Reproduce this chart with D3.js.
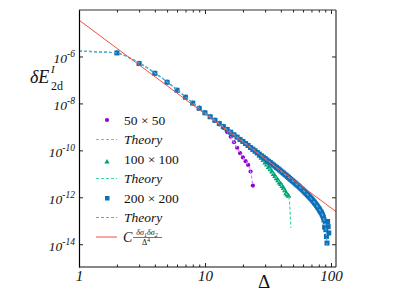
<!DOCTYPE html>
<html>
<head>
<meta charset="utf-8">
<script src="https://cdn.jsdelivr.net/npm/d3@7"></script>
<style>
  body { margin: 0; background: #fff; }
  svg { display: block; }
  svg text { font-family: "Liberation Serif", "DejaVu Serif", serif; }
</style>
</head>
<body>
<svg id="chart" width="402" height="294" font-family="Liberation Serif, serif"></svg>
<script>
// log10 of dE, sampled at integer separations Delta
const delta50 = d3.range(2, 25);
const points50 = [-5.85, -6.30, -6.72, -7.10, -7.44, -7.74, -7.99, -8.21, -8.41,
  -8.58, -8.74, -8.89, -9.04, -9.22, -9.42, -9.65, -9.89, -10.12, -10.30,
  -10.46, -10.62, -10.90, -11.50];

const delta100 = d3.range(2, 47);
const points100 = [-5.85, -6.30, -6.72, -7.10, -7.44, -7.74, -7.99, -8.21, -8.40,
  -8.57, -8.72, -8.86, -8.99, -9.11, -9.23, -9.34, -9.44, -9.54, -9.63,
  -9.72, -9.81, -9.90, -9.99, -10.07, -10.15, -10.24, -10.33, -10.43, -10.53,
  -10.62, -10.72, -10.82, -10.92, -11.02, -11.11, -11.20, -11.29, -11.38, -11.45,
  -11.53, -11.62, -11.72, -11.84, -11.90, -11.95];

const delta200 = d3.range(2, 97);
const points200 = [-5.85, -6.30, -6.72, -7.10, -7.44, -7.74, -7.99, -8.21, -8.40,
  -8.57, -8.72, -8.86, -8.99, -9.11, -9.23, -9.34, -9.44, -9.54, -9.62,
  -9.71, -9.79, -9.88, -9.95, -10.02, -10.09, -10.16, -10.23, -10.29, -10.35,
  -10.41, -10.47, -10.52, -10.58, -10.63, -10.68, -10.73, -10.78, -10.83, -10.88,
  -10.93, -10.97, -11.02, -11.06, -11.11, -11.15, -11.20, -11.24, -11.28, -11.32,
  -11.36, -11.40, -11.44, -11.48, -11.51, -11.55, -11.59, -11.63, -11.66, -11.70,
  -11.74, -11.78, -11.82, -11.85, -11.89, -11.93, -11.96, -12.00, -12.04, -12.07,
  -12.11, -12.15, -12.19, -12.23, -12.27, -12.31, -12.35, -12.40, -12.44, -12.48,
  -12.53, -12.58, -12.62, -12.66, -12.72, -12.78, -12.86, -12.96, -13.27, -13.03,
  -13.38, -13.67, -13.95, -13.03, -13.25, -13.52];

// theory curves (log10)
const theoryDelta50 = [1, 1.5, 2, 2.5, 3, 4, 5, 6, 7, 8, 10, 12, 14, 16, 18, 20, 22, 23, 24];
const theory50 = [-5.77, -5.81, -5.85, -6.05, -6.27, -6.70, -7.08, -7.42, -7.72, -7.98,
  -8.40, -8.73, -9.03, -9.42, -9.89, -10.30, -10.62, -10.90, -11.50];

const theoryDelta100 = [1, 1.5, 2, 2.5, 3, 4, 5, 6, 7, 8, 10, 12, 15, 20, 25, 30, 35, 40, 44, 46, 47, 48];
const theory100 = [-5.77, -5.81, -5.85, -6.05, -6.27, -6.70, -7.08, -7.42, -7.72, -7.98,
  -8.40, -8.72, -9.11, -9.63, -10.07, -10.53, -11.02, -11.45, -11.84, -11.95, -12.30, -13.30];

const theoryDelta200 = [1, 1.5, 2, 2.5, 3, 4, 5, 6, 7, 8, 10, 15, 20, 30, 40, 50, 60, 70, 80, 85, 88, 90, 92, 93];
const theory200 = [-5.77, -5.81, -5.85, -6.05, -6.27, -6.70, -7.08, -7.42, -7.72, -7.98,
  -8.40, -9.11, -9.62, -10.35, -10.88, -11.32, -11.70, -12.07, -12.48, -12.72, -12.96,
  -13.20, -13.60, -14.05];

// C * ds1 ds2 / Delta^4 reference line (end points, log10)
const fitDelta = [1, 109.6];
const fitValues = [-4.45, -12.61];

const xMajor = [1, 10, 100];
const xMinor = [2, 3, 4, 5, 6, 7, 8, 9, 20, 30, 40, 50, 60, 70, 80, 90];
const yTicks = [-6, -8, -10, -12, -14];

const colors = {
  p50: "#9400d3", t50: "#c98af5",
  p100: "#00a077", t100: "#3fd9a2",
  p200: "#0f6fb5", t200: "#58a8e6",
  fit: "#f0503f"
};

const svg = d3.select("#chart");
const margin = { top: 10, right: 66, bottom: 27, left: 79 };
const W = 402, H = 294;

const x = d3.scaleLog()
  .domain([1, 109.6])
  .range([margin.left, W - margin.right]);
const y = d3.scaleLog()
  .domain([Math.pow(10, -14.97), Math.pow(10, -4.02)])
  .range([H - margin.bottom, margin.top]);

const toPts = (ds, vs) => ds.map((d, i) => [d, Math.pow(10, vs[i])]);

const line = d3.line()
  .x(d => x(d[0]))
  .y(d => y(d[1]))
  .curve(d3.curveMonotoneX);

const plot = svg.append("g");

function drawPoints(data, shape, color) {
  const g = plot.append("g");
  if (shape === "circle") {
    g.selectAll("circle").data(data).enter().append("circle")
      .attr("cx", d => x(d[0])).attr("cy", d => y(d[1]))
      .attr("r", 2.1).attr("fill", color);
  } else if (shape === "triangle") {
    const sym = d3.symbol().type(d3.symbolTriangle).size(14);
    g.selectAll("path").data(data).enter().append("path")
      .attr("d", sym)
      .attr("transform", d => `translate(${x(d[0])},${y(d[1])})`)
      .attr("fill", color);
  } else {
    g.selectAll("rect").data(data).enter().append("rect")
      .attr("x", d => x(d[0]) - 2.5).attr("y", d => y(d[1]) - 2.5)
      .attr("width", 5).attr("height", 5)
      .attr("fill", color);
  }
}

function drawTheory(data, color) {
  plot.append("path")
    .datum(data)
    .attr("d", line)
    .attr("fill", "none")
    .attr("stroke", color)
    .attr("stroke-width", 1.2)
    .attr("stroke-dasharray", "3,2");
}

drawPoints(toPts(delta50, points50), "circle", colors.p50);
drawTheory(toPts(theoryDelta50, theory50), colors.t50);
drawPoints(toPts(delta100, points100), "triangle", colors.p100);
drawTheory(toPts(theoryDelta100, theory100), colors.t100);
drawPoints(toPts(delta200, points200), "square", colors.p200);
drawTheory(toPts(theoryDelta200, theory200), colors.t200);

plot.append("path")
  .datum(toPts(fitDelta, fitValues))
  .attr("d", d3.line().x(d => x(d[0])).y(d => y(d[1])))
  .attr("fill", "none")
  .attr("stroke", colors.fit)
  .attr("stroke-width", 1);

// axes (ticks point inward on all four sides)
const x0 = margin.left, x1 = W - margin.right, y0 = margin.top, y1 = H - margin.bottom;

function addAxis(axis, tx, ty) {
  const g = svg.append("g").attr("transform", `translate(${tx},${ty})`).call(axis);
  g.attr("font-family", null);
  g.select(".domain").remove();
  g.selectAll(".tick line").attr("stroke", "#222");
  return g;
}

const xb = addAxis(d3.axisBottom(x).tickValues(xMajor).tickSize(-4).tickSizeOuter(0)
  .tickFormat(d3.format("d")).tickPadding(3), 0, y1);
xb.selectAll("text")
  .attr("font-size", 15).attr("font-style", "italic").attr("fill", "#111");
addAxis(d3.axisBottom(x).tickValues(xMinor).tickSize(-2.5).tickFormat(""), 0, y1);
addAxis(d3.axisTop(x).tickValues(xMajor).tickSize(-4).tickFormat(""), 0, y0);
addAxis(d3.axisTop(x).tickValues(xMinor).tickSize(-2.5).tickFormat(""), 0, y0);

const yTickVals = yTicks.map(e => Math.pow(10, e));
const yl = addAxis(d3.axisLeft(y).tickValues(yTickVals).tickSize(-4).tickFormat(""), x0, 0);
addAxis(d3.axisRight(y).tickValues(yTickVals).tickSize(-4).tickFormat(""), x1, 0);

yl.selectAll(".tick").each(function(d) {
  const e = Math.round(Math.log10(d));
  const t = d3.select(this).append("text")
    .attr("x", -4).attr("y", 6.5)
    .attr("text-anchor", "end")
    .attr("fill", "#111")
    .attr("font-style", "italic")
    .attr("font-size", 13.5);
  t.append("tspan").text("10");
  t.append("tspan").attr("dy", -6).attr("font-size", 9.5).text("-" + Math.abs(e));
});

// frame
svg.append("line").attr("x1", x0 + 0.5).attr("x2", x0 + 0.5).attr("y1", y0).attr("y2", y1 + 0.5)
  .attr("stroke", "#000").attr("stroke-width", 1.2);
svg.append("line").attr("x1", x0).attr("x2", x1).attr("y1", y1).attr("y2", y1)
  .attr("stroke", "#111").attr("stroke-width", 1.2);
svg.append("line").attr("x1", x0).attr("x2", x1).attr("y1", y0).attr("y2", y0)
  .attr("stroke", "#333").attr("stroke-width", 1.2);
svg.append("line").attr("x1", x1).attr("x2", x1).attr("y1", y0).attr("y2", y1)
  .attr("stroke", "#333").attr("stroke-width", 1.2);

// axis labels
const yLab = svg.append("g").attr("fill", "#111");
yLab.append("text").attr("x", 30).attr("y", 83).attr("font-size", 18).attr("font-style", "italic")
  .text("δE");
yLab.append("text").attr("x", 51).attr("y", 73).attr("font-size", 11).attr("font-style", "italic")
  .text("I");
yLab.append("text").attr("x", 51).attr("y", 90).attr("font-size", 12)
  .text("2d");

svg.append("text")
  .attr("x", 264).attr("y", 288)
  .attr("text-anchor", "middle").attr("font-size", 19).attr("fill", "#111")
  .text("Δ");

// legend
const legendItems = [
  { kind: "circle", color: colors.p50, label: "50 × 50" },
  { kind: "dash", color: colors.t50, label: "Theory" },
  { kind: "triangle", color: colors.p100, label: "100 × 100" },
  { kind: "dash", color: colors.t100, label: "Theory" },
  { kind: "square", color: colors.p200, label: "200 × 200" },
  { kind: "dash", color: colors.t200, label: "Theory" },
  { kind: "line", color: colors.fit, label: "fit" }
];

const leg = svg.append("g");
legendItems.forEach((item, i) => {
  const cy = 120 + i * 19.5;
  const g = leg.append("g").attr("transform", `translate(0,${cy})`);
  if (item.kind === "circle") {
    g.append("circle").attr("cx", 107).attr("cy", 0).attr("r", 2.1).attr("fill", item.color);
  } else if (item.kind === "triangle") {
    g.append("path").attr("d", d3.symbol().type(d3.symbolTriangle).size(12))
      .attr("transform", "translate(107,3)").attr("fill", item.color);
  } else if (item.kind === "square") {
    g.append("rect").attr("x", 105).attr("y", -2).attr("width", 4.5).attr("height", 4.5)
      .attr("fill", item.color);
  } else {
    g.append("line").attr("x1", 96).attr("x2", 117).attr("y1", 0).attr("y2", 0)
      .attr("stroke", item.color).attr("stroke-width", item.kind === "line" ? 1 : 1.2)
      .attr("stroke-dasharray", item.kind === "dash" ? "3,2" : null);
  }
  if (item.kind === "line") {
    g.append("text").attr("x", 123).attr("y", 5).attr("font-size", 14).attr("font-style", "italic")
      .attr("fill", "#111").text("C");
    g.append("text").attr("x", 147).attr("y", -2).attr("text-anchor", "middle")
      .attr("font-size", 8).attr("font-style", "italic").attr("fill", "#111")
      .html('δσ<tspan font-size="6" dy="1.5">1</tspan><tspan dy="-1.5">δσ</tspan><tspan font-size="6" dy="1.5">2</tspan>');
    g.append("line").attr("x1", 133).attr("x2", 162).attr("y1", 0.5).attr("y2", 0.5)
      .attr("stroke", "#111").attr("stroke-width", 0.6);
    g.append("text").attr("x", 146).attr("y", 8).attr("text-anchor", "middle")
      .attr("font-size", 8).attr("fill", "#111")
      .html('Δ<tspan font-size="6" dy="-3">4</tspan>');
  } else {
    g.append("text").attr("x", 124).attr("y", 4.5).attr("font-size", 13.5)
      .attr("font-style", item.label === "Theory" ? "italic" : null)
      .attr("fill", "#111").text(item.label);
  }
});
</script>
</body>
</html>
